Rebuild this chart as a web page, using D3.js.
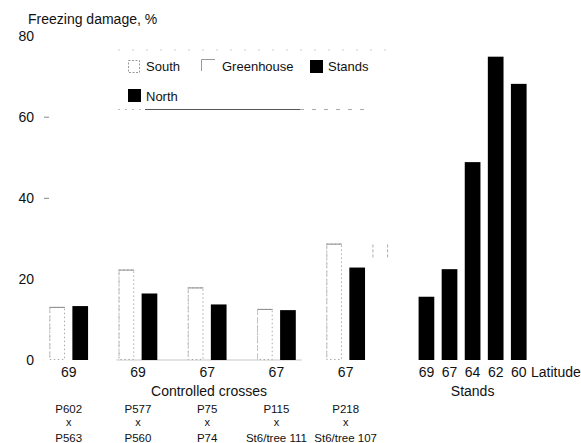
<!DOCTYPE html>
<html>
<head>
<meta charset="utf-8">
<script src="https://cdn.jsdelivr.net/npm/d3@7/dist/d3.min.js"></script>
<style>
  html, body { margin: 0; padding: 0; background: #fff; }
  svg { display: block; font-family: "Liberation Sans", Arial, sans-serif; }
</style>
</head>
<body>
<svg id="chart" width="581" height="443"></svg>
<script>
// ---- data ----
const crossLatitudes = ["69", "69", "67", "67", "67"];
const crossParents = [
  ["P602", "x", "P563"],
  ["P577", "x", "P560"],
  ["P75", "x", "P74"],
  ["P115", "x", "St6/tree 111"],
  ["P218", "x", "St6/tree 107"]
];
const southValues = [13.1, 22.3, 17.9, 12.6, 28.7];
const northValues = [13.3, 16.4, 13.7, 12.3, 22.8];
const greenhouseValues = [null, null, null, null, 28.5];
const standLatitudes = ["69", "67", "64", "62", "60"];
const standValues = [15.6, 22.4, 48.8, 74.8, 68.1];
const yTicks = [0, 20, 40, 60, 80];
const legendItems = ["South", "Greenhouse", "Stands", "North"];

// ---- scales ----
const svg = d3.select("#chart");
const slots = [];
crossLatitudes.forEach((_, i) => {
  slots.push(`c${i}-South`, `c${i}-North`, `c${i}-Greenhouse`);
});
slots.push("gap");
standLatitudes.forEach((_, j) => slots.push(`s${j}`));

const x = d3.scaleBand().domain(slots).range([45.6, 530.3])
  .paddingInner(0.32).paddingOuter(0.16);
const y = d3.scaleLinear().domain([0, 80]).range([360, 35.6]);
const bw = x.bandwidth();

// ---- y axis ----
const yAxis = d3.axisLeft(y).tickValues(yTicks).tickSize(5).tickPadding(10)
  .tickFormat(d3.format("d"));
const gy = svg.append("g").attr("transform", "translate(49,0)").call(yAxis);
gy.select(".domain").remove();
gy.selectAll(".tick line").attr("stroke", "#888")
  .attr("stroke-opacity", d => (d === 60 || d === 40) ? 1 : 0);
gy.selectAll(".tick text").attr("font-size", 14).attr("fill", "#111")
  .attr("font-family", "Liberation Sans, Arial, sans-serif");

svg.append("text").attr("x", 28).attr("y", 24).attr("font-size", 14)
  .attr("fill", "#111").text("Freezing damage, %");

// baseline under the crosses (faint)
svg.append("line").attr("x1", x("c1-South") - 2).attr("x2", x("c3-North") + bw + 6)
  .attr("y1", y(0)).attr("y2", y(0)).attr("stroke", "#c8c8c8").attr("stroke-width", 1.2);

// ---- cross bars ----
const crossData = crossLatitudes.map((lat, i) => ({
  i, south: southValues[i], north: northValues[i], gh: greenhouseValues[i]
}));

// South: white with faded dotted outline
const southG = svg.append("g");
crossData.forEach(d => {
  const x0 = x(`c${d.i}-South`), yt = y(d.south);
  southG.append("rect").attr("x", x0 + 0.5).attr("y", yt + 0.5)
    .attr("width", bw - 1).attr("height", y(0) - yt - 1)
    .attr("fill", "#fff").attr("stroke", "#aaa").attr("stroke-width", 1)
    .attr("stroke-dasharray", "1.5,2.5");
  southG.append("line").attr("x1", x0).attr("x2", x0 + bw)
    .attr("y1", yt + 0.5).attr("y2", yt + 0.5).attr("stroke", "#8a8a8a");
  southG.append("line").attr("x1", x0 + 0.5).attr("x2", x0 + 0.5)
    .attr("y1", yt).attr("y2", y(0)).attr("stroke", "#c4c4c4")
    .attr("stroke-dasharray", "6,3");
});

// North: black
svg.append("g").selectAll("rect").data(crossData).join("rect")
  .attr("x", d => x(`c${d.i}-North`)).attr("y", d => y(d.north))
  .attr("width", bw).attr("height", d => y(0) - y(d.north)).attr("fill", "#000");

// Greenhouse: nearly invisible outline (only short top parts of the sides survive)
const ghG = svg.append("g");
crossData.filter(d => d.gh != null).forEach(d => {
  const x0 = x(`c${d.i}-Greenhouse`), yt = y(d.gh);
  [x0 + 0.5, x0 + bw - 0.5].forEach(xx => {
    ghG.append("line").attr("x1", xx).attr("x2", xx)
      .attr("y1", yt).attr("y2", yt + 14).attr("stroke", "#aaa")
      .attr("stroke-dasharray", "3,2");
  });
});

// ---- stands ----
svg.append("g").selectAll("rect").data(standValues).join("rect")
  .attr("x", (d, j) => x(`s${j}`)).attr("y", d => y(d))
  .attr("width", bw).attr("height", d => y(0) - y(d)).attr("fill", "#000");

// ---- x labels ----
const labelG = svg.append("g").attr("fill", "#111");
crossLatitudes.forEach((lat, i) => {
  const cx = (x(`c${i}-South`) + x(`c${i}-North`) + bw) / 2;
  labelG.append("text").attr("x", cx).attr("y", 377).attr("text-anchor", "middle")
    .attr("font-size", 14).text(lat);
  crossParents[i].forEach((t, k) => {
    labelG.append("text").attr("x", cx).attr("y", [413, 425.5, 442][k])
      .attr("text-anchor", "middle").attr("font-size", k === 1 ? 11 : 11.5).text(t);
  });
});
labelG.append("text").attr("x", 209).attr("y", 396).attr("text-anchor", "middle")
  .attr("font-size", 14).text("Controlled crosses");

standLatitudes.forEach((lat, j) => {
  labelG.append("text").attr("x", x(`s${j}`) + bw / 2).attr("y", 377)
    .attr("text-anchor", "middle").attr("font-size", 14).text(lat);
});
labelG.append("text").attr("x", 531).attr("y", 377).attr("font-size", 14).text("Latitude");
labelG.append("text").attr("x", (x("s0") + x("s4") + bw) / 2).attr("y", 396)
  .attr("text-anchor", "middle").attr("font-size", 14).text("Stands");

// ---- legend ----
const lg = svg.append("g");
lg.append("line").attr("x1", 118).attr("x2", 390).attr("y1", 50).attr("y2", 50)
  .attr("stroke", "#ccc").attr("stroke-dasharray", "2,12");
lg.append("line").attr("x1", 118).attr("x2", 145).attr("y1", 109.5).attr("y2", 109.5)
  .attr("stroke", "#bbb").attr("stroke-dasharray", "2,5");
lg.append("line").attr("x1", 145).attr("x2", 300).attr("y1", 109.5).attr("y2", 109.5)
  .attr("stroke", "#555");
lg.append("line").attr("x1", 300).attr("x2", 370).attr("y1", 109.5).attr("y2", 109.5)
  .attr("stroke", "#aaa").attr("stroke-dasharray", "4,8");

const legPos = [
  { sx: 128, sy: 60, tx: 146, ty: 71 },
  { sx: 200, sy: 59, tx: 222, ty: 71 },
  { sx: 310, sy: 60, tx: 328, ty: 71 },
  { sx: 128, sy: 89, tx: 146, ty: 101 }
];
legendItems.forEach((name, k) => {
  const p = legPos[k];
  if (name === "South") {
    lg.append("rect").attr("x", p.sx + 0.5).attr("y", p.sy + 0.5).attr("width", 11).attr("height", 12)
      .attr("fill", "#fff").attr("stroke", "#999").attr("stroke-dasharray", "2,1.5");
  } else if (name === "Greenhouse") {
    lg.append("path").attr("d", `M${p.sx + 1.5},${p.sy + 12}V${p.sy + 0.5}H${p.sx + 15}`)
      .attr("fill", "none").attr("stroke", "#999");
  } else {
    lg.append("rect").attr("x", p.sx).attr("y", p.sy).attr("width", 13).attr("height", 13)
      .attr("fill", "#000");
  }
  lg.append("text").attr("x", p.tx).attr("y", p.ty).attr("font-size", 13)
    .attr("fill", "#111").text(name);
});
</script>
</body>
</html>
